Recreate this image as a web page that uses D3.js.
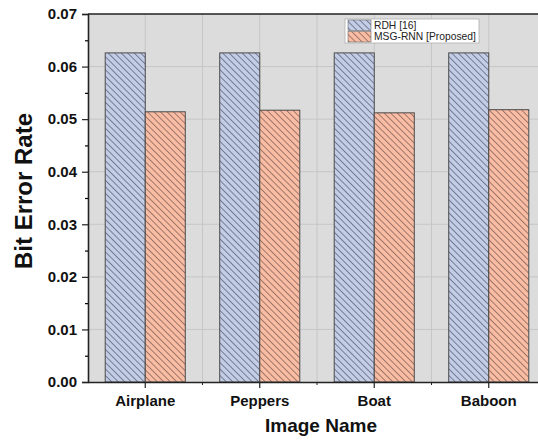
<!DOCTYPE html>
<html>
<head>
<meta charset="utf-8">
<script src="https://cdn.jsdelivr.net/npm/d3@7"></script>
<style>
  body { margin: 0; background: #fff; }
  svg { display: block; font-family: "Liberation Sans", Arial, sans-serif; }
</style>
</head>
<body>
<div class="content"></div>
<script>
// data
var categories = ["Airplane", "Peppers", "Boat", "Baboon"];
var seriesNames = ["RDH [16]", "MSG-RNN [Proposed]"];
var rdhValues = [0.0626, 0.0626, 0.0626, 0.0626];
var msgValues = [0.0514, 0.0517, 0.0512, 0.0518];
var yTicks = [0, 0.01, 0.02, 0.03, 0.04, 0.05, 0.06, 0.07];

var fills = ["#c3cde6", "#fbbca4"];
var hatchColors = ["#5b6378", "#7d6158"];

var W = 538, H = 441;
var margin = {top: 14, right: -8, bottom: 59, left: 88},
    width = W - margin.left - margin.right,
    height = H - margin.top - margin.bottom;

var root = d3.select(".content")
    .append("svg")
    .attr("width", W)
    .attr("height", H);

// hatch patterns
var defs = root.append("defs");
fills.forEach(function (f, i) {
    var p = defs.append("pattern")
        .attr("id", "hatch" + i)
        .attr("patternUnits", "userSpaceOnUse")
        .attr("width", 4.6)
        .attr("height", 10)
        .attr("patternTransform", "rotate(-45)");
    p.append("rect").attr("width", 4.6).attr("height", 10).attr("fill", f);
    p.append("line")
        .attr("x1", 0.5).attr("y1", 0).attr("x2", 0.5).attr("y2", 10)
        .attr("stroke", hatchColors[i]).attr("stroke-width", 0.8);
});

var svg = root.append("g")
    .attr("transform", "translate(" + margin.left + "," + margin.top + ")");

// scales
var x0 = d3.scaleBand().domain(categories).range([0, width]).padding(0);
var x1 = d3.scaleBand().domain(seriesNames).range([0, x0.bandwidth()]).paddingInner(0).paddingOuter(0.43);
var y = d3.scaleLinear().domain([0, 0.07]).range([height, 0]);

// background
svg.append("rect")
    .attr("width", width)
    .attr("height", height)
    .attr("fill", "#dcdcdc");

// grid
var minorX = categories.slice(1).map(function (c) { return x0(c); });
var gridX = categories.map(function (c) { return x0(c) + x0.bandwidth() / 2; }).concat(minorX);
svg.append("g").selectAll("line")
    .data(gridX)
    .enter().append("line")
    .attr("x1", function (d) { return d; })
    .attr("x2", function (d) { return d; })
    .attr("y1", 0).attr("y2", height)
    .attr("stroke", "#c6c6c6").attr("stroke-width", 1);
svg.append("g").selectAll("line")
    .data(yTicks.slice(1, -1))
    .enter().append("line")
    .attr("x1", 0).attr("x2", width)
    .attr("y1", function (d) { return y(d); })
    .attr("y2", function (d) { return y(d); })
    .attr("stroke", "#c6c6c6").attr("stroke-width", 1);

// bars
var table = categories.map(function (c, i) {
    return {cat: c, vals: [rdhValues[i], msgValues[i]]};
});
var groups = svg.append("g").selectAll("g")
    .data(table)
    .enter().append("g")
    .attr("transform", function (d) { return "translate(" + x0(d.cat) + ",0)"; });
groups.selectAll("rect")
    .data(function (d) { return d.vals.map(function (v, j) { return {name: seriesNames[j], j: j, v: v}; }); })
    .enter().append("rect")
    .attr("x", function (d) { return x1(d.name); })
    .attr("width", x1.bandwidth())
    .attr("y", function (d) { return y(d.v); })
    .attr("height", function (d) { return height - y(d.v); })
    .attr("fill", function (d) { return "url(#hatch" + d.j + ")"; })
    .attr("stroke", "#4a4a4a")
    .attr("stroke-width", 1);

// frame top
svg.append("line")
    .attr("x1", 0).attr("x2", width).attr("y1", 0).attr("y2", 0)
    .attr("stroke", "#222").attr("stroke-width", 1.6);

// y axis
var yAxis = svg.append("g")
    .call(d3.axisLeft(y).tickValues(yTicks).tickFormat(d3.format(".2f")).tickSize(6).tickPadding(5));
svg.append("g")
    .call(d3.axisLeft(y).tickValues(d3.range(0.005, 0.07, 0.01)).tickSize(3).tickFormat(""))
    .select(".domain").remove();

// x axis
var xAxis = svg.append("g")
    .attr("transform", "translate(0," + height + ")")
    .call(d3.axisBottom(x0).tickSize(6).tickSizeOuter(0).tickPadding(7));
svg.append("g")
    .attr("transform", "translate(0," + height + ")")
    .selectAll("line")
    .data(minorX)
    .enter().append("line")
    .attr("x1", function (d) { return d; })
    .attr("x2", function (d) { return d; })
    .attr("y1", 0).attr("y2", 3)
    .attr("stroke", "#222");

[yAxis, xAxis].forEach(function (a) {
    a.selectAll(".domain").attr("stroke", "#222").attr("stroke-width", 1.6);
    a.selectAll(".tick line").attr("stroke", "#222");
    a.selectAll("text")
        .attr("font-size", 15)
        .attr("font-weight", "bold")
        .attr("fill", "#111")
        .style("font-family", "'Liberation Sans', Arial, sans-serif");
});
svg.selectAll("g.tick line").attr("stroke-width", 1.2);

// axis titles
root.append("text")
    .attr("transform", "translate(32," + (margin.top + height / 2 - 7) + ") rotate(-90)")
    .attr("text-anchor", "middle")
    .attr("font-size", 24)
    .attr("font-weight", "bold")
    .attr("fill", "#111")
    .text("Bit Error Rate");

root.append("text")
    .attr("x", 321)
    .attr("y", 432)
    .attr("text-anchor", "middle")
    .attr("font-size", 19)
    .attr("font-weight", "bold")
    .attr("fill", "#111")
    .text("Image Name");

// legend
var legend = root.append("g").attr("transform", "translate(345,19)");
legend.append("rect")
    .attr("width", 134).attr("height", 24)
    .attr("fill", "#fff").attr("stroke", "#b0b0b0").attr("stroke-width", 0.8);
seriesNames.forEach(function (s, i) {
    legend.append("rect")
        .attr("x", 3).attr("y", 1 + i * 11.5)
        .attr("width", 23).attr("height", 10.5)
        .attr("fill", "url(#hatch" + i + ")")
        .attr("stroke", "#6a6a6a").attr("stroke-width", 0.6);
    legend.append("text")
        .attr("x", 29).attr("y", 9.8 + i * 11.5)
        .attr("font-size", 10.3)
        .attr("fill", "#222")
        .text(s);
});
</script>
</body>
</html>
